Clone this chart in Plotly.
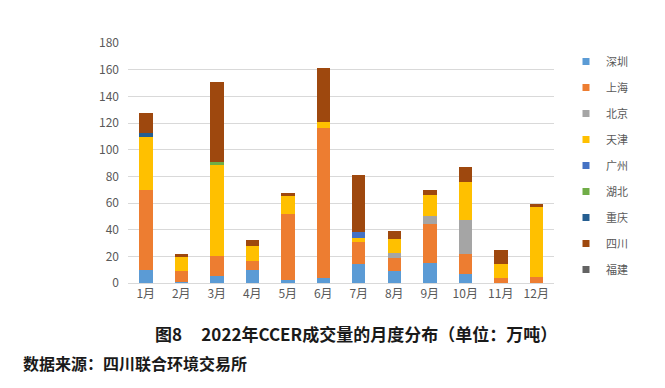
import plotly.graph_objects as go

months = ["1月", "2月", "3月", "4月", "5月", "6月", "7月", "8月", "9月", "10月", "11月", "12月"]
shenzhen = [10, 0.5, 5.5, 9.5, 2.5, 3.5, 14.5, 9, 15, 6.5, 0, 0]
shanghai = [59.5, 8.5, 15, 7, 49, 113, 16.5, 9.5, 29.5, 15.5, 3.5, 4.5]
beijing = [0, 0, 0, 0, 0, 0, 0, 4, 5.5, 25.5, 0, 0]
tianjin = [40, 10.5, 68, 11, 14, 4, 3, 10.5, 16, 28, 10.5, 52.5]
guangzhou = [0, 0, 0, 0, 0, 0, 4, 0, 0, 0, 0, 0]
hubei = [0, 0, 2.5, 0, 0, 0, 0, 0, 0, 0, 0, 0]
chongqing = [3, 0, 0, 0, 0, 0, 0, 0, 0, 0, 0, 0]
sichuan = [15, 2.5, 59.5, 5, 2, 40.5, 43, 6, 3.5, 11.5, 11, 2.5]
fujian = [0, 0, 0, 0, 0, 0, 0, 0, 0, 0, 0, 0]

series = [
    ("深圳", shenzhen, "#5B9BD5"),
    ("上海", shanghai, "#ED7D31"),
    ("北京", beijing, "#A5A5A5"),
    ("天津", tianjin, "#FFC000"),
    ("广州", guangzhou, "#4472C4"),
    ("湖北", hubei, "#70AD47"),
    ("重庆", chongqing, "#255E91"),
    ("四川", sichuan, "#9E480E"),
    ("福建", fujian, "#636363"),
]

FONT = "Noto Sans CJK SC"
fig = go.Figure()
for name, vals, color in series:
    fig.add_trace(go.Bar(x=months, y=vals, name=name, marker=dict(color=color, line=dict(width=0)),
                         showlegend=False))
for name, vals, color in series:
    fig.add_trace(go.Scatter(x=[None], y=[None], mode="markers", name=name, legendgroup=name,
                             marker=dict(symbol="square", size=7, color=color)))

L, R, T, B = 120, 107, 35, 113
W, H = 665, 388
pw, ph = W - L - R, H - T - B

fig.update_layout(
    width=W, height=H, barmode="stack", bargap=0.62,
    margin=dict(l=L, r=R, t=T, b=B),
    paper_bgcolor="white", plot_bgcolor="white",
    font=dict(family=FONT, color="#595959", size=12),
    xaxis=dict(showgrid=False, showline=True, linecolor="#D9D9D9", ticks="",
               tickfont=dict(size=12, color="#595959")),
    yaxis=dict(range=[0, 180], dtick=20, showgrid=True, gridcolor="#D9D9D9", gridwidth=1,
               zeroline=False, showline=False, ticks="", ticklabelstandoff=8,
               tickfont=dict(size=12, color="#595959")),
    legend=dict(xref="container", yref="container", x=558 / W, y=1 - 39 / H,
                xanchor="left", yanchor="top", tracegroupgap=7, itemwidth=30,
                maxheight=1000,
                font=dict(size=11, color="#595959"), bgcolor="rgba(0,0,0,0)"),
    annotations=[
        dict(text="图8     2022年CCER成交量的月度分布（单位：万吨）", xref="paper", yref="paper",
             x=(354 - L) / pw, y=(H - B - 325) / ph, xanchor="center", yanchor="middle",
             showarrow=False, font=dict(family=FONT, size=17, color="#1a1a1a", weight="bold")),
        dict(text="数据来源：四川联合环境交易所", xref="paper", yref="paper",
             x=(10 - L) / pw, y=(H - B - 355) / ph, xanchor="left", yanchor="middle",
             showarrow=False, font=dict(family=FONT, size=16, color="#1a1a1a", weight="bold")),
    ],
)

fig.write_html("out.html")
